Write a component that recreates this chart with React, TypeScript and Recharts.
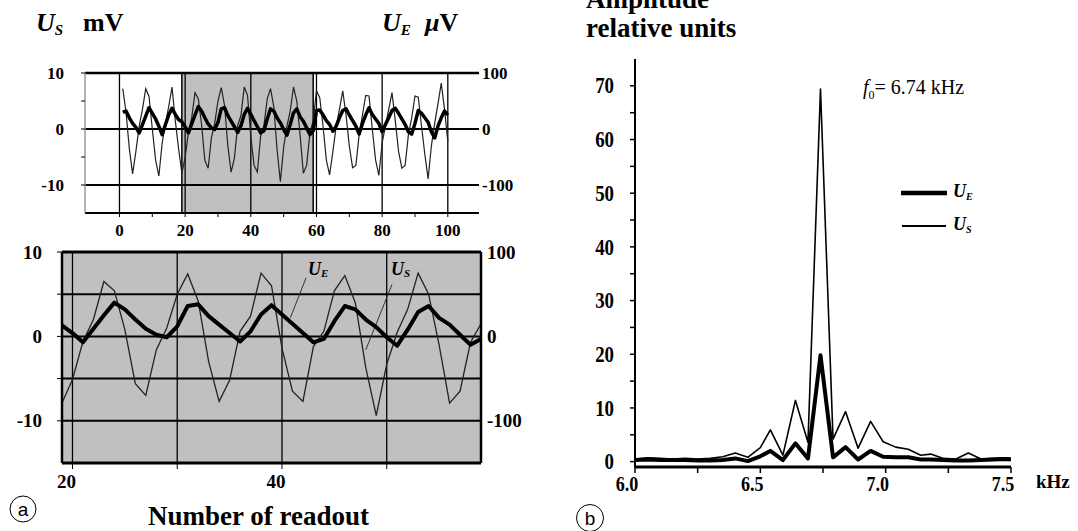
import React from "react";
import {
  LineChart,
  Line,
  XAxis,
  YAxis,
  CartesianGrid,
  ReferenceArea,
  ReferenceLine,
} from "recharts";

const SERIF = '"Liberation Serif", "Times New Roman", serif';
const SANS = '"Liberation Sans", Arial, sans-serif';

// ---- panel a: readouts 1..100 ----
// U_S in mV (thin line, left axis)
const US_MV = [
  7.2, 3.0, -3.5, -8.0, -4.0, 0.5, 3.5, 7.2, 5.8, 0.0,
  -5.5, -8.4, -2.5, 1.0, 4.0, 7.5, 1.5, -3.5, -7.9, -5.1,
  -0.6, 2.0, 6.5, 5.4, 0.8, -5.6, -7.0, -1.6, 1.0, 5.0,
  7.4, 4.2, -3.0, -7.7, -5.2, 0.6, 2.4, 7.5, 6.0, -1.4,
  -6.5, -7.7, -1.2, 0.6, 5.4, 7.2, 4.0, -3.7, -9.4, -3.3,
  0.5, 3.2, 7.5, 5.0, -1.0, -7.9, -6.5, -0.7, 1.5, 6.8,
  5.6, 0.5, -5.5, -8.2, -4.0, 0.5, 3.5, 6.8, 2.5, -3.0,
  -6.9, -6.5, -1.0, 2.5, 6.0, 5.9, 0.0, -5.5, -8.3, -2.5,
  0.5, 3.5, 6.5, 1.5, -4.0, -7.0, -6.5, -1.0, 2.0, 5.9,
  5.7, 0.5, -4.5, -8.9, -3.0, 1.0, 4.5, 8.2, 3.5, -2.2,
];

// U_E in µV (thick line, right axis)
const UE_UV = [
  30, 32, 20, 10, 3, -7, 8, 23, 38, 28,
  18, 5, -10, 8, 25, 37, 26, 17, 13, 4,
  -7, 9, 25, 40, 32, 20, 9, 2, -1, 12,
  36, 38, 24, 14, 4, -6, 6, 26, 37, 26,
  15, 4, -7, -3, 18, 36, 32, 20, 11, -1,
  -11, 8, 29, 36, 22, 14, 2, -10, -3, 33,
  34, 25, 15, 8, -4, 5, 20, 33, 36, 25,
  15, 5, -9, 10, 25, 38, 26, 18, 10, -5,
  8, 20, 33, 37, 28, 18, 8, -5, -9, 10,
  33, 28, 20, 12, -5, -16, 5, 20, 32, 25,
];

const TOP_X_TICKS = [0, 10, 20, 30, 40, 50, 60, 70, 80, 90, 100];
const TOP_X_LABELS = [0, 20, 40, 60, 80, 100];
const ZOOM_RANGE: [number, number] = [19, 59];
const ZOOM_X_TICKS = [20, 30, 40, 50];
const ZOOM_X_LABELS = [20, 40];
const MV_TICKS = [-10, -5, 0, 5, 10];
const MV_LABELS = [-10, 0, 10];
const UV_TICKS = [-100, 0, 100];

// ---- panel b: spectrum ----
const FREQ_KHZ = [
  6.0, 6.05, 6.1, 6.15, 6.2, 6.25, 6.3, 6.35, 6.4, 6.45,
  6.5, 6.54, 6.59, 6.64, 6.69, 6.74, 6.79, 6.84, 6.89, 6.94,
  6.99, 7.04, 7.09, 7.14, 7.18, 7.23, 7.28, 7.33, 7.38, 7.43,
  7.48, 7.5,
];
const SPEC_US = [
  0.5, 0.7, 0.6, 0.5, 0.6, 0.5, 0.6, 0.9, 1.6, 0.8,
  2.6, 5.9, 1.2, 11.4, 3.6, 69.4, 4.2, 9.3, 2.5, 7.5,
  3.7, 2.7, 2.3, 1.2, 1.4, 0.6, 0.5, 1.6, 0.5, 0.6,
  0.7, 0.6,
];
const SPEC_UE = [
  0.3, 0.4, 0.3, 0.3, 0.3, 0.2, 0.2, 0.3, 0.6, 0.1,
  1.0, 2.0, 0.3, 3.4, 0.6, 19.8, 0.8, 2.7, 0.4, 2.0,
  0.9, 0.8, 0.8, 0.4, 0.4, 0.3, 0.2, 0.2, 0.3, 0.4,
  0.5, 0.4,
];
const AMP_TICKS = [0, 5, 10, 15, 20, 25, 30, 35, 40, 45, 50, 55, 60, 65, 70];
const AMP_LABELS = [0, 10, 20, 30, 40, 50, 60, 70];
const FREQ_TICKS = [6.0, 6.25, 6.5, 6.75, 7.0, 7.25, 7.5];
const FREQ_LABELS = [6.0, 6.5, 7.0, 7.5];

const readoutRows = US_MV.map((us, i) => ({ readout: i + 1, us, ue: UE_UV[i] }));
const zoomRows = readoutRows.filter(
  (r) => r.readout >= ZOOM_RANGE[0] && r.readout <= ZOOM_RANGE[1]
);
const spectrumRows = FREQ_KHZ.map((f, i) => ({ f, us: SPEC_US[i], ue: SPEC_UE[i] }));

type AxisTickProps = {
  x?: number;
  y?: number;
  payload?: { value: number };
  labels: number[];
  size: number;
  anchor: "start" | "middle" | "end";
  offX?: number;
  offY?: number;
  squeeze?: number;
  central?: boolean;
  digits?: number;
};

function AxisTick({
  x = 0,
  y = 0,
  payload,
  labels,
  size,
  anchor,
  offX = 0,
  offY = 0,
  squeeze = 1,
  central = false,
  digits,
}: AxisTickProps) {
  const v = payload ? Number(payload.value) : 0;
  if (!labels.some((l) => Math.abs(l - v) < 1e-6)) return <g />;
  const text = digits === undefined ? String(v) : v.toFixed(digits);
  return (
    <text
      transform={`translate(${x + offX},${y + offY}) scale(${squeeze},1)`}
      textAnchor={anchor}
      dominantBaseline={central ? "central" : "auto"}
      fontFamily={SERIF}
      fontWeight="bold"
      fontSize={size}
      fill="#000"
    >
      {text}
    </text>
  );
}

const black = { stroke: "#000" };

export default function App() {
  return (
    <div
      style={{
        position: "absolute",
        left: 0,
        top: 0,
        width: 1078,
        height: 531,
        background: "#fff",
        overflow: "hidden",
      }}
    >
      {/* panel a: whole record */}
      <div style={{ position: "absolute", left: 0, top: 0 }}>
        <LineChart
          width={540}
          height={250}
          data={readoutRows}
          margin={{ top: 73, right: 16, bottom: 7, left: 45 }}
        >
          <XAxis
            dataKey="readout"
            type="number"
            domain={[-10.5, 109.5]}
            ticks={TOP_X_TICKS}
            interval={0}
            allowDataOverflow
            height={30}
            tickSize={4}
            tickMargin={0}
            axisLine={{ stroke: "#000", strokeWidth: 2 }}
            tickLine={black}
            tick={(p: any) => (
              <AxisTick x={p.x} y={p.y} payload={p.payload} labels={TOP_X_LABELS} size={17} anchor="middle" offY={19} />
            )}
          />
          <YAxis
            yAxisId="mv"
            domain={[-15, 10]}
            ticks={MV_TICKS}
            interval={0}
            allowDataOverflow
            width={40}
            tickSize={4}
            tickMargin={0}
            axisLine={{ stroke: "#999", strokeWidth: 1.5 }}
            tickLine={black}
            tick={(p: any) => (
              <AxisTick x={p.x} y={p.y} payload={p.payload} labels={MV_LABELS} size={17} anchor="end" offX={-17} central />
            )}
          />
          <YAxis
            yAxisId="uv"
            orientation="right"
            domain={[-150, 100]}
            ticks={UV_TICKS}
            interval={0}
            allowDataOverflow
            width={45}
            tickSize={3}
            tickMargin={0}
            axisLine={false}
            tickLine={false}
            tick={(p: any) => (
              <AxisTick x={p.x} y={p.y} payload={p.payload} labels={UV_TICKS} size={17} anchor="start" offX={0} central />
            )}
          />
          <ReferenceArea
            yAxisId="mv"
            x1={ZOOM_RANGE[0]}
            x2={ZOOM_RANGE[1]}
            fill="#c0c0c0"
            fillOpacity={1}
            stroke="#000"
            strokeWidth={1.5}
          />
          {TOP_X_LABELS.map((v) => (
            <ReferenceLine key={v} yAxisId="mv" x={v} stroke="#000" strokeWidth={1.3} />
          ))}
          <ReferenceLine yAxisId="mv" y={10} stroke="#000" strokeWidth={2.5} />
          <ReferenceLine yAxisId="mv" y={0} stroke="#000" strokeWidth={2} />
          <ReferenceLine yAxisId="mv" y={-10} stroke="#000" strokeWidth={2} />
          <Line
            yAxisId="mv"
            dataKey="us"
            type="linear"
            stroke="#222"
            strokeWidth={1.2}
            dot={false}
            isAnimationActive={false}
          />
          <Line
            yAxisId="uv"
            dataKey="ue"
            type="linear"
            stroke="#000"
            strokeWidth={3.5}
            strokeLinejoin="round"
            dot={false}
            isAnimationActive={false}
          />
        </LineChart>
      </div>

      {/* panel a: zoomed readouts 19..59 */}
      <div style={{ position: "absolute", left: 0, top: 240 }}>
        <LineChart
          width={540}
          height={260}
          data={zoomRows}
          margin={{ top: 12, right: 14, bottom: 7, left: 22 }}
        >
          <CartesianGrid
            yAxisId="mv"
            horizontal={false}
            vertical={false}
            fill="#c0c0c0"
            fillOpacity={1}
          />
          <XAxis
            dataKey="readout"
            type="number"
            domain={ZOOM_RANGE}
            ticks={ZOOM_X_TICKS}
            interval={0}
            allowDataOverflow
            height={30}
            tickSize={6}
            tickMargin={0}
            axisLine={{ stroke: "#000", strokeWidth: 3 }}
            tickLine={black}
            tick={(p: any) => (
              <AxisTick x={p.x} y={p.y} payload={p.payload} labels={ZOOM_X_LABELS} size={19} anchor="middle" offX={-6} offY={19} />
            )}
          />
          <YAxis
            yAxisId="mv"
            domain={[-15, 10]}
            ticks={MV_TICKS}
            interval={0}
            allowDataOverflow
            width={40}
            tickSize={5}
            tickMargin={0}
            axisLine={{ stroke: "#000", strokeWidth: 2.5 }}
            tickLine={black}
            tick={(p: any) => (
              <AxisTick x={p.x} y={p.y} payload={p.payload} labels={MV_LABELS} size={19} anchor="end" offX={-15} central />
            )}
          />
          <YAxis
            yAxisId="uv"
            orientation="right"
            domain={[-150, 100]}
            ticks={UV_TICKS}
            interval={0}
            allowDataOverflow
            width={45}
            tickSize={3}
            tickMargin={0}
            axisLine={{ stroke: "#000", strokeWidth: 2.5 }}
            tickLine={false}
            tick={(p: any) => (
              <AxisTick x={p.x} y={p.y} payload={p.payload} labels={UV_TICKS} size={19} anchor="start" offX={3} central />
            )}
          />
          {MV_TICKS.map((v) => (
            <ReferenceLine key={`h${v}`} yAxisId="mv" y={v} stroke="#000" strokeWidth={v === 10 ? 3 : 2} />
          ))}
          {ZOOM_X_TICKS.map((v) => (
            <ReferenceLine key={`v${v}`} yAxisId="mv" x={v} stroke="#000" strokeWidth={1.3} />
          ))}
          <ReferenceLine
            yAxisId="mv"
            segment={[{ x: 40.8, y: 2.2 }, { x: 42.3, y: 6.95 }]}
            stroke="#333"
            strokeWidth={1}
          />
          <ReferenceLine
            yAxisId="mv"
            segment={[{ x: 48.0, y: -1.6 }, { x: 50.5, y: 6.15 }]}
            stroke="#333"
            strokeWidth={1}
          />
          <Line
            yAxisId="mv"
            dataKey="us"
            type="linear"
            stroke="#222"
            strokeWidth={1.3}
            dot={false}
            isAnimationActive={false}
          />
          <Line
            yAxisId="uv"
            dataKey="ue"
            type="linear"
            stroke="#000"
            strokeWidth={4}
            strokeLinejoin="round"
            dot={false}
            isAnimationActive={false}
          />
        </LineChart>
      </div>

      {/* panel b: spectrum */}
      <div style={{ position: "absolute", left: 540, top: 0 }}>
        <LineChart
          width={538}
          height={531}
          data={spectrumRows}
          margin={{ top: 59, right: 67, bottom: 24, left: 50 }}
        >
          <XAxis
            dataKey="f"
            type="number"
            domain={[6.0, 7.5]}
            ticks={FREQ_TICKS}
            interval={0}
            allowDataOverflow
            height={40}
            tickSize={6}
            tickMargin={0}
            axisLine={{ stroke: "#000", strokeWidth: 3 }}
            tickLine={{ stroke: "#000", strokeWidth: 1.5 }}
            tick={(p: any) => (
              <AxisTick x={p.x} y={p.y} payload={p.payload} labels={FREQ_LABELS} size={22} anchor="middle" offX={-8} offY={18} squeeze={0.82} digits={1} />
            )}
          />
          <YAxis
            domain={[-1, 75]}
            ticks={AMP_TICKS}
            interval={0}
            allowDataOverflow
            width={45}
            tickSize={5}
            tickMargin={0}
            axisLine={{ stroke: "#000", strokeWidth: 2 }}
            tickLine={{ stroke: "#000", strokeWidth: 1.5 }}
            tick={(p: any) => (
              <AxisTick x={p.x} y={p.y} payload={p.payload} labels={AMP_LABELS} size={23} anchor="end" offX={-16} squeeze={0.82} central />
            )}
          />
          <Line
            dataKey="us"
            type="linear"
            stroke="#000"
            strokeWidth={1.6}
            strokeLinejoin="round"
            dot={false}
            isAnimationActive={false}
          />
          <Line
            dataKey="ue"
            type="linear"
            stroke="#000"
            strokeWidth={4}
            strokeLinejoin="round"
            dot={false}
            isAnimationActive={false}
          />
        </LineChart>
      </div>

      {/* titles, annotations, legend */}
      <svg
        width={1078}
        height={531}
        style={{ position: "absolute", left: 0, top: 0, pointerEvents: "none" }}
        fontFamily={SERIF}
      >
        <text x={36} y={31} fontSize={26} fontWeight="bold">
          <tspan fontStyle="italic">U</tspan>
          <tspan fontStyle="italic" fontSize={15} dy={4}>S</tspan>
        </text>
        <text x={83} y={31} fontSize={26} fontWeight="bold">mV</text>
        <text x={382} y={31} fontSize={26} fontWeight="bold">
          <tspan fontStyle="italic">U</tspan>
          <tspan fontStyle="italic" fontSize={15} dy={4}>E</tspan>
        </text>
        <text x={425} y={31} fontSize={26} fontWeight="bold">
          <tspan fontStyle="italic">μ</tspan>V
        </text>

        <text x={308} y={275} fontSize={18} fontWeight="bold">
          <tspan fontStyle="italic">U</tspan>
          <tspan fontStyle="italic" fontSize={11} dy={2}>E</tspan>
        </text>
        <text x={391} y={275} fontSize={18} fontWeight="bold">
          <tspan fontStyle="italic">U</tspan>
          <tspan fontStyle="italic" fontSize={11} dy={2}>S</tspan>
        </text>

        <text x={148} y={525} fontSize={27} fontWeight="bold">Number of readout</text>
        <circle cx={23} cy={509} r={13} fill="none" stroke="#000" strokeWidth={1} />
        <text x={23} y={515.5} fontSize={19} fontFamily={SANS} textAnchor="middle">a</text>

        <text x={586} y={8} fontSize={27} fontWeight="bold">Amplitude</text>
        <text x={586} y={37} fontSize={27} fontWeight="bold">relative units</text>

        <text x={863} y={94} fontSize={20}>
          <tspan fontStyle="italic">f</tspan>
          <tspan fontSize={12} dy={5}>0</tspan>
          <tspan dy={-5}>= 6.74 kHz</tspan>
        </text>

        <line x1={901} x2={947} y1={193} y2={193} stroke="#000" strokeWidth={4.5} />
        <text x={953} y={197} fontSize={18} fontWeight="bold">
          <tspan fontStyle="italic">U</tspan>
          <tspan fontStyle="italic" fontSize={10} dy={3}>E</tspan>
        </text>
        <line x1={902} x2={946} y1={226} y2={226} stroke="#000" strokeWidth={2} />
        <text x={953} y={230} fontSize={18} fontWeight="bold">
          <tspan fontStyle="italic">U</tspan>
          <tspan fontStyle="italic" fontSize={10} dy={3}>S</tspan>
        </text>

        <text x={1036} y={488} fontSize={19} fontWeight="bold">kHz</text>
        <circle cx={590} cy={518} r={13.5} fill="none" stroke="#000" strokeWidth={1} />
        <text x={590} y={524.5} fontSize={19} fontFamily={SANS} textAnchor="middle">b</text>
      </svg>
    </div>
  );
}
